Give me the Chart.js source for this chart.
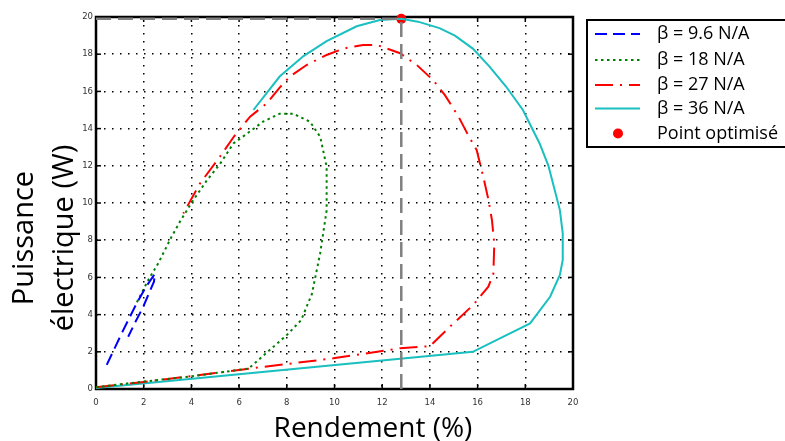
<!DOCTYPE html>
<html>
<head>
<meta charset="utf-8">
<script src="https://cdn.jsdelivr.net/npm/chart.js@4.4.1/dist/chart.umd.min.js"></script>
<style>
	body { margin: 0; background: #fff; }
	canvas { display: block; }
</style>
</head>
<body>
<canvas id="graphe" width="785" height="441"></canvas>
<script>
// rendement (%) et puissance (W), pour chaque beta
var rendement96 = [0.45, 1.08, 1.7, 2.1, 2.47, 2.43, 1.98, 1.65, 1.35];
var puissance96 = [1.3, 3.0, 4.6, 5.5, 6.2, 5.77, 4.42, 3.6, 2.81];

var rendement18 = [0, 2, 4, 6.4, 7.2, 8.0, 8.6, 9.05, 9.4, 9.67, 9.67, 9.4, 8.97, 8.27, 7.7, 7.0, 6.3, 5.76, 5.2, 4.64, 4.05, 3.52, 3.17, 2.61, 2.19, 1.65];
var puissance18 = [0.1, 0.4, 0.68, 1.1, 2.0, 2.9, 3.7, 5.1, 7.3, 9.6, 11.95, 13.56, 14.37, 14.8, 14.8, 14.37, 13.7, 13.2, 12.1, 11.2, 10.1, 9.0, 8.19, 6.76, 5.86, 4.5];

var rendement27 = [0, 2, 4.36, 6.46, 9.95, 12.75, 14.0, 14.8, 15.8, 16.45, 16.66, 16.7, 16.6, 16.45, 16.24, 15.96, 15.6, 15.2, 14.63, 14.14, 13.45, 12.75, 11.77, 11.2, 10.37, 9.67, 8.83, 8.13, 7.7, 7.16, 6.46, 5.8, 5.2, 4.36, 3.66];
var puissance27 = [0.1, 0.38, 0.75, 1.1, 1.65, 2.19, 2.3, 3.3, 4.5, 5.5, 6.2, 7.8, 9.1, 10.2, 11.4, 12.85, 13.66, 14.64, 15.8, 16.6, 17.42, 18.05, 18.5, 18.5, 18.3, 17.96, 17.42, 16.8, 16.2, 15.36, 14.64, 13.6, 12.5, 11.05, 9.44];

var rendement36 = [0, 15.8, 18.2, 19.04, 19.45, 19.57, 19.57, 19.45, 18.97, 18.6, 17.9, 17.2, 16.5, 15.8, 15.05, 14.4, 13.5, 12.8, 11.9, 10.93, 9.67, 8.7, 7.7, 6.6];
var puissance36 = [0.05, 2.0, 3.53, 4.96, 6.13, 6.94, 8.37, 9.62, 12.0, 13.2, 15.0, 16.25, 17.33, 18.3, 19.0, 19.4, 19.75, 19.9, 19.84, 19.5, 18.7, 17.9, 16.8, 15.0];

var rendementOpt = 12.8;
var puissanceOpt = 19.9;

var legendes = ['\u03b2 = 9.6 N/A', '\u03b2 = 18 N/A', '\u03b2 = 27 N/A', '\u03b2 = 36 N/A', 'Point optimis\u00e9'];
var graduations = [0, 2, 4, 6, 8, 10, 12, 14, 16, 18, 20];

function points(xs, ys) {
	var res = [];
	for (var i = 0; i < xs.length; i++) {
		res.push({ x : xs[i], y : ys[i] });
	}
	return res;
}

function courbe(label, xs, ys, couleur, tirets) {
	return {
		label : label,
		data : points(xs, ys),
		showLine : true,
		borderColor : couleur,
		backgroundColor : couleur,
		borderWidth : 2,
		borderDash : tirets,
		pointRadius : 0,
		tension : 0,
		clip : false
	};
}

var styles = [
	{ couleur : '#0000ff', tirets : [12, 6] },
	{ couleur : '#008000', tirets : [2.5, 3.5] },
	{ couleur : '#ff0000', tirets : [18, 7, 2, 7] },
	{ couleur : '#1abfbf', tirets : [] }
];

var datasets = [
	courbe('', [rendementOpt, rendementOpt], [0, puissanceOpt], '#808080', [15, 7]),
	courbe('', [0, rendementOpt], [puissanceOpt, puissanceOpt], '#808080', [15, 7]),
	courbe(legendes[0], rendement96, puissance96, styles[0].couleur, styles[0].tirets),
	courbe(legendes[1], rendement18, puissance18, styles[1].couleur, styles[1].tirets),
	courbe(legendes[2], rendement27, puissance27, styles[2].couleur, styles[2].tirets),
	courbe(legendes[3], rendement36, puissance36, styles[3].couleur, styles[3].tirets),
	{
		label : legendes[4],
		data : [ { x : rendementOpt, y : puissanceOpt } ],
		pointRadius : 5,
		pointBorderWidth : 0,
		pointBackgroundColor : '#ff0000',
		pointBorderColor : '#ff0000',
		clip : false
	}
];
datasets[0].borderWidth = 2.5;
datasets[1].borderWidth = 2.5;

function trait(ctx, x1, y1, x2, y2) {
	ctx.beginPath();
	ctx.moveTo(x1, y1);
	ctx.lineTo(x2, y2);
	ctx.stroke();
}

// cadre facon matlab, graduations vers l'interieur, titres des axes
var cadre = {
	id : 'cadre',
	beforeDatasetsDraw : function(chart) {
		var ctx = chart.ctx;
		var a = chart.chartArea;
		var sx = chart.scales.x;
		var sy = chart.scales.y;
		ctx.save();
		ctx.strokeStyle = '#000';
		ctx.lineWidth = 1.5;
		for (var i = 0; i < graduations.length; i++) {
			var px = sx.getPixelForValue(graduations[i]);
			var py = sy.getPixelForValue(graduations[i]);
			trait(ctx, px, a.bottom, px, a.bottom - 5);
			trait(ctx, px, a.top, px, a.top + 5);
			trait(ctx, a.left, py, a.left + 5, py);
			trait(ctx, a.right, py, a.right - 5, py);
		}
		ctx.lineWidth = 2.5;
		ctx.strokeRect(a.left, a.top, a.right - a.left, a.bottom - a.top);

		ctx.fillStyle = '#000';
		ctx.font = '28px "Open Sans"';
		ctx.textAlign = 'center';
		ctx.textBaseline = 'alphabetic';
		ctx.fillText('Rendement (%)', 373, 437);

		ctx.font = '29px "Open Sans"';
		ctx.translate(33, 238);
		ctx.rotate(-Math.PI / 2);
		ctx.fillText('Puissance', 0, 0);
		ctx.fillText('\u00e9lectrique (W)', 0, 40);
		ctx.restore();
	},
	afterDraw : function(chart) {
		var ctx = chart.ctx;
		ctx.save();
		ctx.strokeStyle = '#000';
		ctx.lineWidth = 2;
		ctx.fillStyle = '#fff';
		ctx.fillRect(587, 20, 200, 127);
		ctx.strokeRect(587, 20, 200, 127);
		var ys = [34, 60, 85, 108.5, 133.5];
		ctx.font = '18px "Open Sans"';
		ctx.textBaseline = 'middle';
		ctx.textAlign = 'left';
		for (var i = 0; i < legendes.length; i++) {
			if (i < 4) {
				ctx.strokeStyle = styles[i].couleur;
				ctx.lineWidth = 2;
				ctx.setLineDash(styles[i].tirets);
				trait(ctx, 595, ys[i], 640, ys[i]);
				ctx.setLineDash([]);
			} else {
				ctx.fillStyle = '#ff0000';
				ctx.beginPath();
				ctx.arc(618, ys[i], 5, 0, Math.PI * 2);
				ctx.fill();
			}
			ctx.fillStyle = '#000';
			ctx.fillText(legendes[i], 657, ys[i]);
		}
		ctx.restore();
	}
};

var grille = {
	color : '#000',
	lineWidth : 1.5,
	drawTicks : false
};

var graphe = new Chart(document.getElementById('graphe'), {
	type : 'scatter',
	data : { datasets : datasets },
	options : {
		responsive : false,
		animation : false,
		devicePixelRatio : 1,
		layout : { padding : { top : 17, right : 212, left : 0, bottom : 0 } },
		plugins : {
			legend : { display : false },
			tooltip : { enabled : false }
		},
		scales : {
			x : {
				type : 'linear',
				min : 0,
				max : 20,
				afterBuildTicks : function(s) {
					s.ticks = graduations.map(function(v) { return { value : v }; });
				},
				ticks : { padding : 9, color : '#333', font : { family : 'DejaVu Sans', size : 8.5 } },
				grid : grille,
				border : { display : false, dash : [1.5, 6.5] },
				afterFit : function(s) { s.height = 52; }
			},
			y : {
				type : 'linear',
				min : 0,
				max : 20,
				afterBuildTicks : function(s) {
					s.ticks = graduations.map(function(v) { return { value : v }; });
				},
				ticks : { padding : 3, color : '#333', font : { family : 'DejaVu Sans', size : 8.5 } },
				grid : grille,
				border : { display : false, dash : [1.5, 6.5] },
				afterFit : function(s) { s.width = 96; }
			}
		}
	},
	plugins : [ cadre ]
});
</script>
</body>
</html>
